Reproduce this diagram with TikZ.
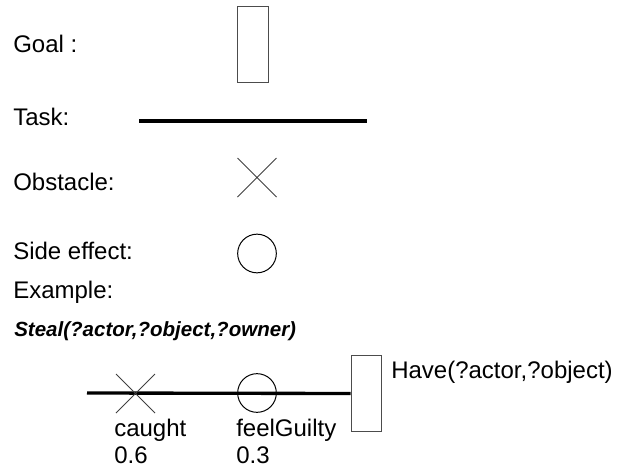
\documentclass[tikz,border=0pt]{standalone}
\usepackage{fontspec}
\setmainfont{Liberation Sans}
\usetikzlibrary{shapes.misc}

\tikzset{
  goalbox/.style={draw=black!70, rectangle, inner sep=0pt, line width=0.75pt,
    minimum width=23pt, minimum height=56.5pt},
  obstacle/.style={draw=black!75, cross out, inner sep=0pt, line width=0.75pt,
    minimum size=28.5pt},
  sideeffect/.style={draw, circle, inner sep=0pt, line width=0.75pt,
    minimum size=29pt},
  task/.style={line width=2.5pt},
  lbl/.style={anchor=base west, inner sep=0pt, font=\fontsize{18}{20.7}\selectfont},
  lbltwo/.style={lbl, align=left},
  stealfont/.style={lbl, font=\fontsize{15.4}{18}\selectfont\bfseries\itshape}
}

\begin{document}
\begin{tikzpicture}[x=0.75pt,y=-0.75pt]
\useasboundingbox (0,0) rectangle (626,468);
% legend
\node[lbl] (goallbl) at (13,52) {Goal :};
\node[goalbox] (goal) at (253,44.5) {};
\node[lbl] (tasklbl) at (13,125) {Task:};
\coordinate (taskleft) at (139,121);
\coordinate (taskright) at (367,121);
\draw[task] (taskleft) -- (taskright);
\node[lbl] (obstlbl) at (13,190) {Obstacle:};
\node[obstacle] (obst) at (257,177.5) {};
\node[lbl] (sidelbl) at (13,259) {Side effect:};
\node[sideeffect] (side) at (257,253.5) {};
% example
\node[lbl] (examplelbl) at (13,298) {Example:};
\node[stealfont] (steal) at (14,336) {Steal(?actor,?object,?owner)};
\node[goalbox] (have) at (366.5,393.5) {};
\node[lbl] (havelbl) at (391,378) {Have(?actor,?object)};
\coordinate (stealstart) at (87,393);
\draw[task] (stealstart) -- (have.west);
\node[obstacle] (caught) at (135.5,393.5) {};
\node[sideeffect] (guilty) at (257,393) {};
\node[lbl] (caughtlbl) at (114,436) {caught};
\node[lbl] (caughtp) at (114,463) {0.6};
\node[lbl] (guiltylbl) at (236,436) {feelGuilty};
\node[lbl] (guiltyp) at (236,463) {0.3};
\end{tikzpicture}
\end{document}
